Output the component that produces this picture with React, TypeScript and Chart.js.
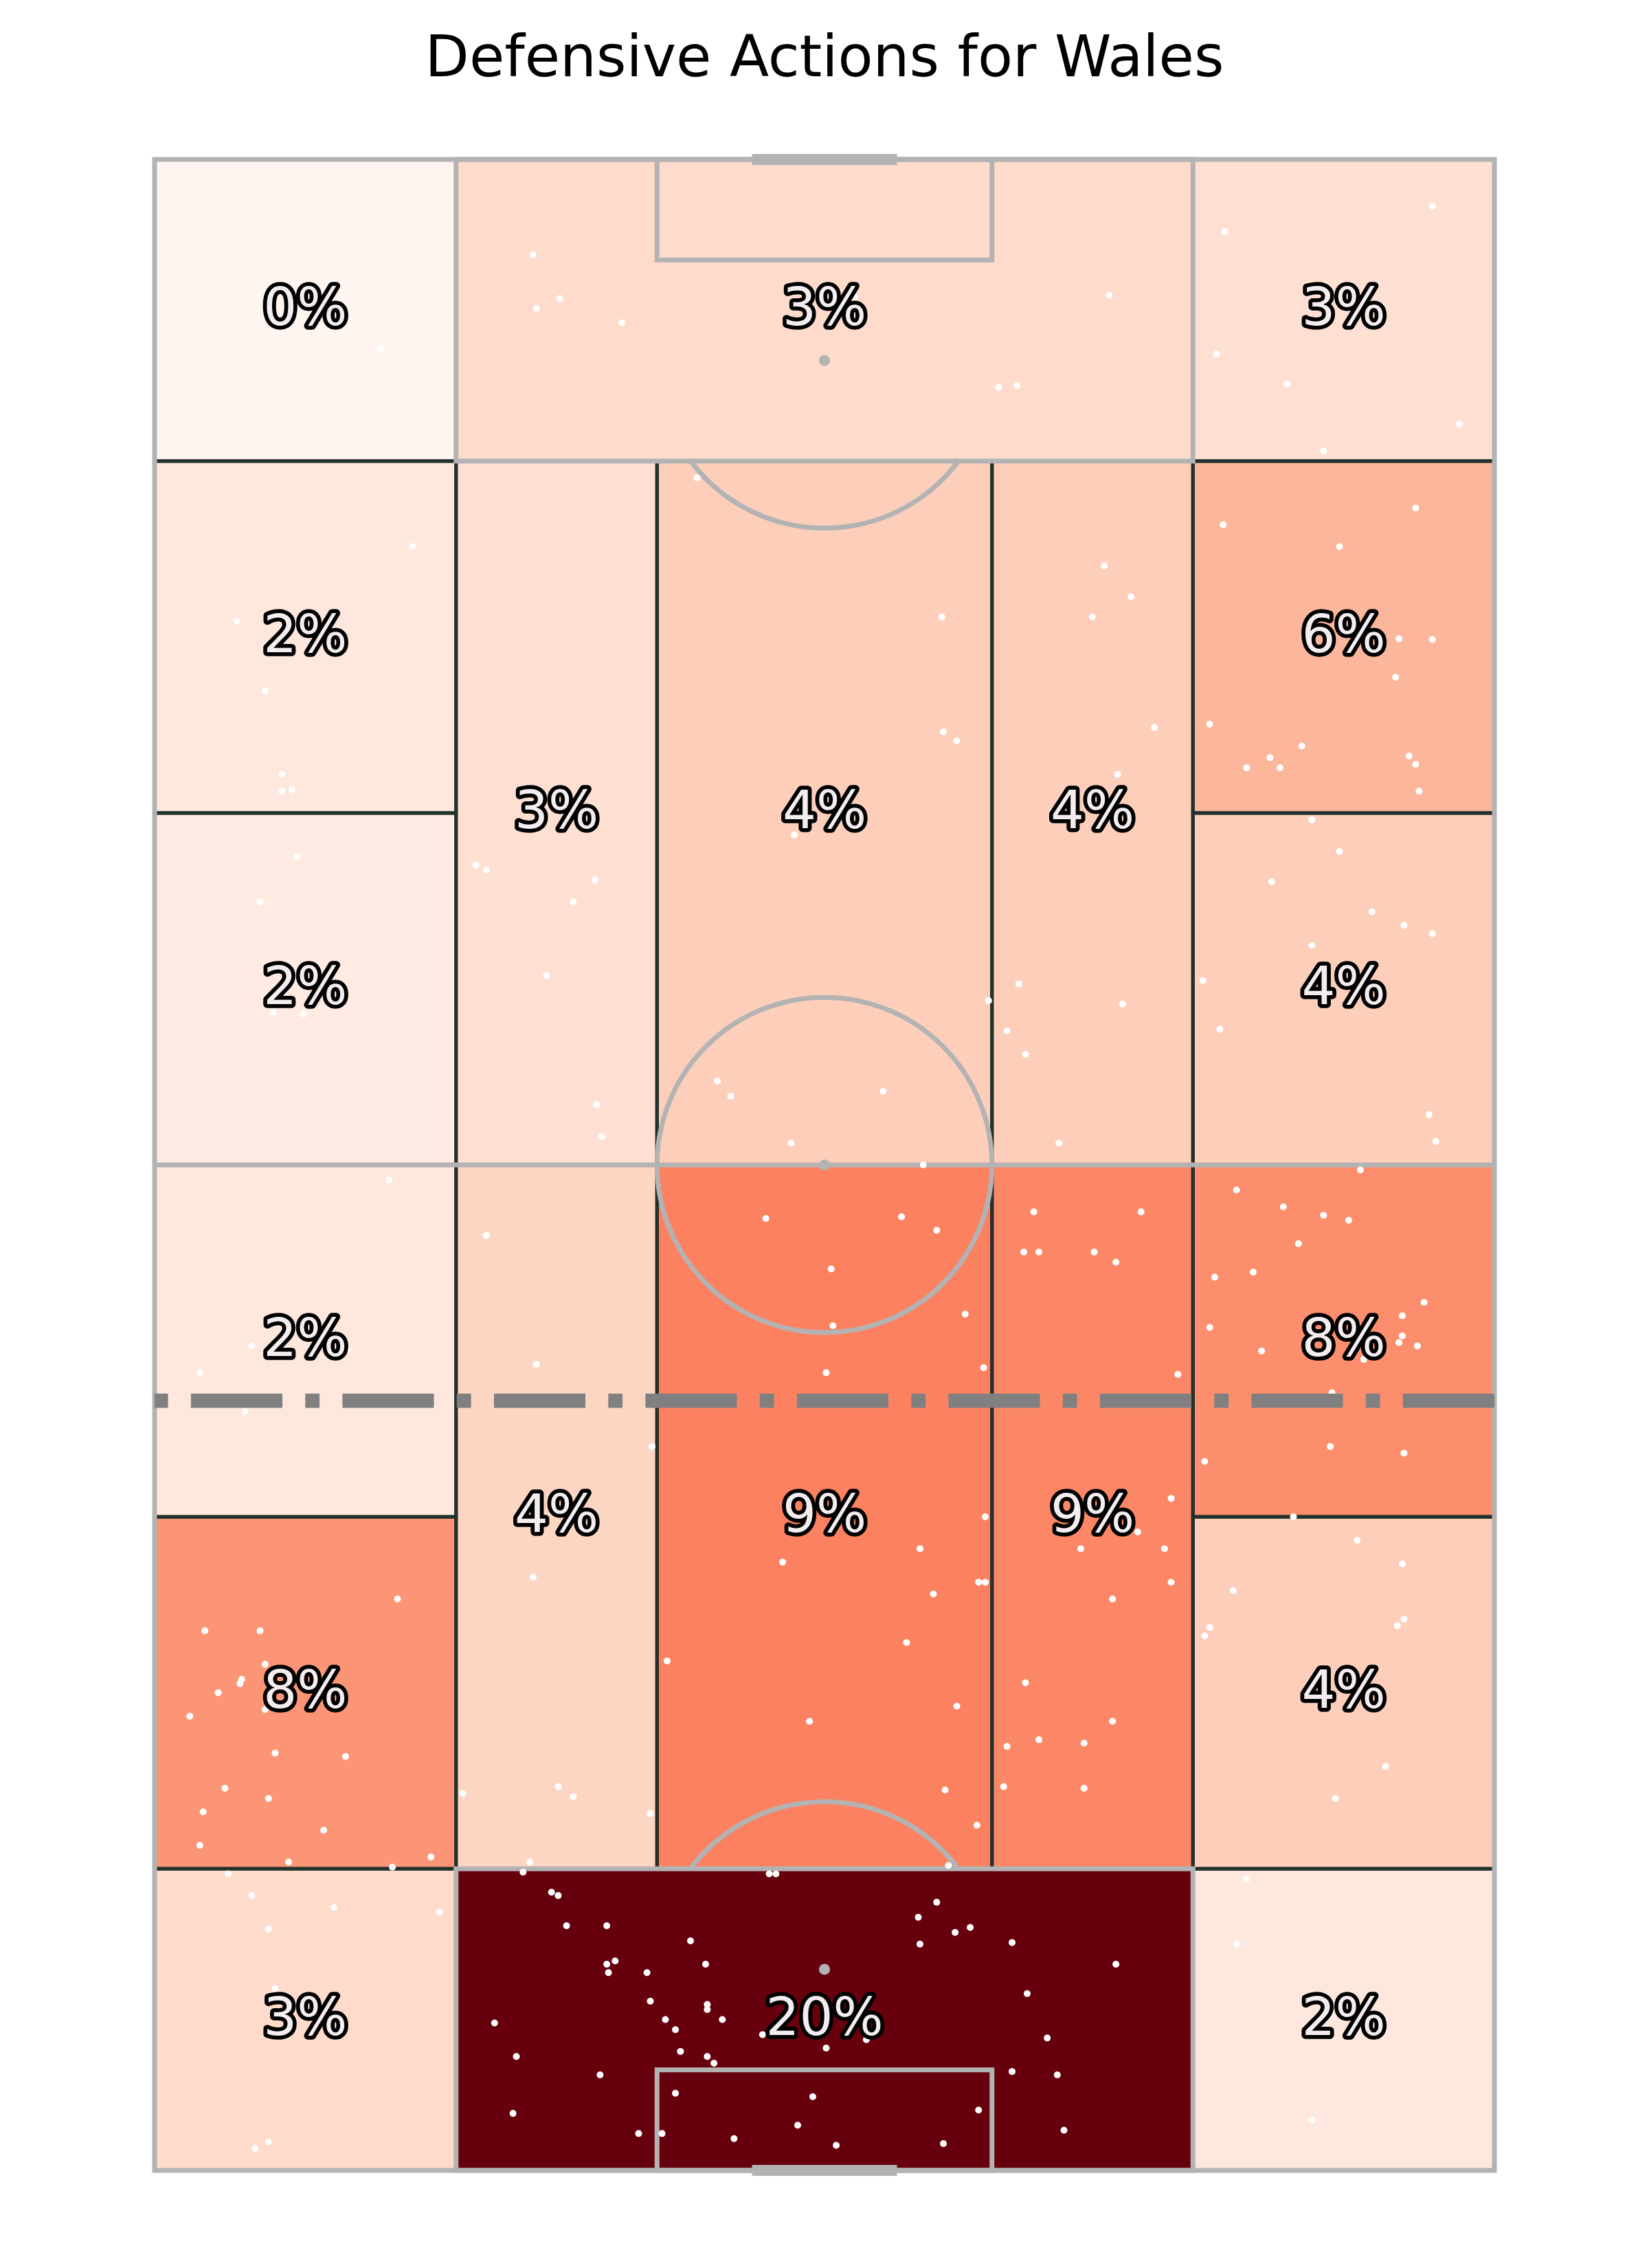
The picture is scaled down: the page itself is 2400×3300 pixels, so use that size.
import React, { useEffect, useRef } from 'react';
import { Chart, registerables } from 'chart.js';

Chart.register(...registerables);

const TITLE = 'Defensive Actions for Wales';

// Positional zones on a StatsBomb pitch (80 wide, 120 long), own goal at the bottom.
const zoneX0 = [0, 18, 62, 0, 0, 18, 30, 50, 62, 62, 0, 0, 18, 30, 50, 62, 62, 0, 18, 62];
const zoneX1 = [18, 62, 80, 18, 18, 30, 50, 62, 80, 80, 18, 18, 30, 50, 62, 80, 80, 18, 62, 80];
const zoneY0 = [102, 102, 102, 81, 60, 60, 60, 60, 81, 60, 39, 18, 18, 18, 18, 39, 18, 0, 0, 0];
const zoneY1 = [120, 120, 120, 102, 81, 102, 102, 102, 102, 81, 60, 39, 60, 60, 60, 60, 39, 18, 18, 18];
// defensive actions counted in each zone
const zoneCounts = [1, 8, 7, 5, 4, 7, 10, 10, 14, 10, 5, 19, 9, 22, 21, 20, 10, 8, 50, 5];

// average height of the defensive actions (dash-dot line)
const avgActionHeight = 45.93;

// individual defensive action locations
const actionX = [
  22.6, 24.2, 22.8, 27.9, 13.5, 15.4, 4.9, 32.4,
  41.8, 57.0, 50.4, 51.5, 76.3, 63.9, 63.4, 67.6, 77.9, 69.8, 63.8, 75.3, 70.75, 74.3, 76.3, 56.7, 58.3, 56.0, 47.0,
  6.6, 7.6, 7.6, 8.2, 8.5, 6.3, 7.1, 8.9, 19.2, 19.8, 26.3, 25.0, 23.4, 26.4, 26.7, 38.2, 33.6, 34.4, 38.0,
  47.1, 47.9, 59.7, 57.5, 74.1, 63.0, 65.2, 66.6, 67.2, 68.5, 74.9, 75.3, 75.5, 69.1, 70.75, 66.7, 72.7, 74.6, 76.3, 69.1, 62.6, 63.6, 76.1, 76.5, 51.6, 49.8, 57.8, 50.9, 52.0, 43.5, 54.0, 45.9,
  14.0, 5.8, 2.7, 5.4, 11.5, 19.8, 22.8, 29.7, 22.6, 14.5, 3.0, 6.3, 6.6, 36.5, 37.5, 30.6,
  72.0, 44.6, 46.7, 40.4, 48.4, 40.5, 40.1, 49.5, 52.5, 58.9, 51.9, 52.8, 56.1, 57.4, 61.1, 64.6, 67.4, 69.8, 71.3, 68.3, 63.3, 65.6, 75.8, 74.5, 74.5, 74.3, 75.4, 63.0, 66.1, 72.2, 70.3, 70.2, 74.6, 62.7, 60.7, 58.7, 55.3, 60.3, 60.7, 57.2, 49.6, 45.7, 49.2, 49.6, 46.5, 44.9, 68.0, 71.8, 74.5, 64.4, 63.0, 62.7, 74.6, 74.2,
  5.2, 5.1, 3.8, 2.1, 6.6, 7.2, 11.4, 4.2, 6.8, 2.9, 10.1, 2.7, 8.0, 16.5, 14.2, 4.4, 5.8, 10.7, 17.0, 6.8, 7.2, 6.8, 6.0, 18.4, 24.1, 25.0, 29.6, 22.4, 39.1,
  22.0, 23.7, 24.1, 24.6, 27.0, 32.0, 27.0, 27.5, 27.1, 29.4, 32.9, 29.6, 33.0, 33.0, 30.5, 33.9, 31.1, 36.3, 20.3, 21.6, 31.4, 33.0, 33.4, 26.6, 31.1, 39.3, 21.4, 28.9, 30.3, 34.6, 38.4, 36.7, 37.1,
  52.0, 47.9, 57.2, 52.8, 50.9, 55.5, 47.2, 50.7, 55.5, 49.1, 47.4, 73.5, 70.5, 65.2, 64.6, 69.1,
  46.7, 45.6, 47.8, 48.7, 45.7, 51.2, 57.4, 52.1, 53.3, 40.1, 42.5, 51.2, 53.9, 49.2, 54.3, 47.1, 40.7,
];
const actionY = [
  114.3, 111.7, 111.1, 110.25, 108.7, 96.9, 92.45, 101.0,
  111.8, 111.9, 106.4, 106.5, 117.2, 115.7, 108.4, 106.6, 104.2, 102.6, 98.2, 99.2, 96.9, 91.4, 91.35, 95.75, 93.9, 92.7, 92.7,
  88.3, 83.3, 82.3, 82.4, 78.4, 75.7, 69.1, 69.0, 77.9, 77.6, 77.0, 75.7, 71.3, 63.6, 61.7, 79.7, 65.0, 64.1, 61.3,
  85.85, 85.3, 86.1, 83.3, 89.1, 86.3, 83.7, 84.3, 83.7, 85.0, 84.4, 83.9, 82.3, 80.6, 78.7, 76.9, 75.1, 74.3, 73.8, 73.1, 71.0, 68.1, 63.0, 61.4, 70.8, 69.8, 69.6, 68.0, 66.6, 64.4, 61.3, 60.0,
  59.1, 49.2, 47.6, 45.3, 49.0, 55.8, 48.1, 43.2, 35.4, 34.1, 32.2, 32.2, 30.2, 56.8, 36.3, 30.4,
  59.7, 56.9, 56.1, 53.8, 51.1, 50.4, 47.6, 47.9, 57.2, 57.2, 54.8, 54.8, 54.8, 54.2, 47.5, 58.5, 57.5, 57.0, 56.7, 55.3, 53.3, 53.6, 51.8, 51.0, 49.8, 49.4, 49.2, 50.3, 48.9, 48.4, 46.4, 43.2, 42.8, 42.3, 40.1, 38.1, 37.1, 37.1, 35.1, 34.1, 39.0, 37.1, 35.1, 35.1, 34.4, 31.5, 39.0, 37.6, 36.2, 34.6, 32.4, 31.9, 32.9, 32.5,
  29.3, 29.05, 28.5, 27.1, 27.5, 24.9, 24.7, 22.8, 22.2, 21.4, 20.3, 19.4, 18.4, 18.7, 18.1, 17.7, 16.4, 15.7, 15.4, 14.4, 10.85, 1.7, 1.3, 22.5, 22.9, 22.3, 21.3, 18.4, 26.8,
  17.8, 16.6, 16.4, 14.6, 14.6, 13.7, 12.3, 12.5, 11.8, 11.8, 12.3, 10.1, 9.9, 9.6, 9.0, 9.0, 8.4, 8.1, 8.8, 6.8, 7.1, 6.8, 6.4, 5.7, 4.6, 4.4, 3.4, 2.2, 2.2, 1.9, 2.7, 17.7, 17.7,
  29.1, 27.7, 26.8, 25.7, 25.3, 25.5, 22.7, 22.9, 22.8, 20.6, 18.2, 24.1, 22.2, 17.4, 13.5, 3.0,
  16.0, 15.1, 14.2, 14.5, 13.5, 13.6, 12.3, 10.55, 7.9, 7.3, 7.8, 5.9, 5.7, 3.6, 2.4, 1.6, 1.5,
];

// matplotlib "Reds" colormap anchors
const REDS = [
  [255, 245, 240], [254, 224, 210], [252, 187, 161], [252, 146, 114], [251, 106, 74],
  [239, 59, 44], [203, 24, 29], [165, 15, 21], [103, 0, 13],
];
function reds(t: number): string {
  const v = Math.max(0, Math.min(1, t)) * (REDS.length - 1);
  const i = Math.min(REDS.length - 2, Math.floor(v));
  const f = v - i;
  const c = REDS[i].map((a, k) => Math.round(a + (REDS[i + 1][k] - a) * f));
  return `rgb(${c[0]},${c[1]},${c[2]})`;
}

const LINE = '#b3b3b3';
const EDGE = '#22312b';

const pitchPlugin = {
  id: 'pitchHeatmap',
  beforeDatasetsDraw(chart: any) {
    const { ctx } = chart;
    const xs = chart.scales.x;
    const ys = chart.scales.y;
    const px = (v: number) => xs.getPixelForValue(v);
    const py = (v: number) => ys.getPixelForValue(v);
    const sx = px(1) - px(0);
    const sy = py(0) - py(1);
    ctx.save();
    const mn = Math.min(...zoneCounts);
    const mx = Math.max(...zoneCounts);
    zoneCounts.forEach((c, i) => {
      ctx.fillStyle = reds((c - mn) / (mx - mn));
      const l = px(zoneX0[i]), r = px(zoneX1[i]), t = py(zoneY1[i]), b = py(zoneY0[i]);
      ctx.fillRect(l, t, r - l, b - t);
    });
    ctx.strokeStyle = EDGE;
    ctx.lineWidth = 5;
    zoneCounts.forEach((c, i) => {
      const l = px(zoneX0[i]), r = px(zoneX1[i]), t = py(zoneY1[i]), b = py(zoneY0[i]);
      ctx.strokeRect(l, t, r - l, b - t);
    });

    // pitch markings
    ctx.strokeStyle = LINE;
    ctx.fillStyle = LINE;
    ctx.lineWidth = 7;
    ctx.lineJoin = 'miter';
    ctx.lineCap = 'butt';
    const rect = (x0: number, y0: number, x1: number, y1: number) => {
      ctx.strokeRect(px(x0), py(y1), px(x1) - px(x0), py(y0) - py(y1));
    };
    rect(0, 0, 80, 120);
    ctx.beginPath();
    ctx.moveTo(px(0), py(60));
    ctx.lineTo(px(80), py(60));
    ctx.stroke();
    rect(18, 102, 62, 120);
    rect(18, 0, 62, 18);
    rect(30, 114, 50, 120);
    rect(30, 0, 50, 6);
    ctx.beginPath();
    ctx.ellipse(px(40), py(60), 10 * sx, 10 * sy, 0, 0, Math.PI * 2);
    ctx.stroke();
    const a = Math.asin(0.6);
    ctx.beginPath();
    ctx.ellipse(px(40), py(12), 10 * sx, 10 * sy, 0, -Math.PI + a, -a);
    ctx.stroke();
    ctx.beginPath();
    ctx.ellipse(px(40), py(108), 10 * sx, 10 * sy, 0, a, Math.PI - a);
    ctx.stroke();
    [60, 12, 108].forEach((yy) => {
      ctx.beginPath();
      ctx.arc(px(40), py(yy), 8, 0, Math.PI * 2);
      ctx.fill();
    });
    ctx.lineWidth = 16;
    ctx.lineCap = 'square';
    [0, 120].forEach((yy) => {
      ctx.beginPath();
      ctx.moveTo(px(36), py(yy));
      ctx.lineTo(px(44), py(yy));
      ctx.stroke();
    });
    ctx.restore();
  },
  afterDatasetsDraw(chart: any) {
    const { ctx } = chart;
    const xs = chart.scales.x;
    const ys = chart.scales.y;
    const total = zoneCounts.reduce((s, v) => s + v, 0);
    ctx.save();
    ctx.font = '77px "DejaVu Sans"';
    ctx.textAlign = 'center';
    ctx.textBaseline = 'alphabetic';
    ctx.lineJoin = 'round';
    ctx.lineWidth = 11.5;
    ctx.strokeStyle = '#000000';
    ctx.fillStyle = '#f4edf0';
    zoneCounts.forEach((c, i) => {
      const cx = xs.getPixelForValue((zoneX0[i] + zoneX1[i]) / 2);
      const cy = ys.getPixelForValue((zoneY0[i] + zoneY1[i]) / 2) + 22;
      const label = `${Math.round((c / total) * 100)}%`;
      ctx.strokeText(label, cx, cy);
      ctx.fillText(label, cx, cy);
    });
    ctx.restore();
  },
};

export default function App() {
  const ref = useRef<HTMLCanvasElement>(null);
  useEffect(() => {
    document.body.style.margin = '0';
    const canvas = ref.current;
    if (!canvas) return;
    const chart = new Chart(canvas, {
      type: 'scatter',
      data: {
        datasets: [
          {
            type: 'line',
            data: [
              { x: 80, y: avgActionHeight },
              { x: 0, y: avgActionHeight },
            ],
            borderColor: '#808080',
            borderWidth: 20.8,
            borderDash: [133.1, 33.3, 20.8, 33.3],
            borderCapStyle: 'butt',
            pointRadius: 0,
            fill: false,
            order: 0,
          } as any,
          {
            type: 'scatter',
            data: actionX.map((v, i) => ({ x: v, y: actionY[i] })),
            backgroundColor: '#ffffff',
            borderWidth: 0,
            pointRadius: 5,
            clip: false,
            order: 1,
          } as any,
        ],
      },
      options: {
        responsive: false,
        animation: false,
        devicePixelRatio: 1,
        layout: { padding: { left: 225, right: 225, top: 0, bottom: 142 } },
        scales: {
          x: { type: 'linear', min: 0, max: 80, display: false },
          y: { type: 'linear', min: 0, max: 120, display: false },
        },
        plugins: {
          legend: { display: false },
          tooltip: { enabled: false },
          title: {
            display: true,
            text: TITLE,
            color: '#000000',
            font: { family: '"DejaVu Sans"', size: 83.5, weight: 'normal', lineHeight: 1.2 },
            padding: { top: 39, bottom: 92.8 },
          },
        },
        events: [],
      } as any,
      plugins: [pitchPlugin],
    });
    return () => chart.destroy();
  }, []);
  return <canvas ref={ref} width={2400} height={3300} style={{ display: 'block' }} />;
}
